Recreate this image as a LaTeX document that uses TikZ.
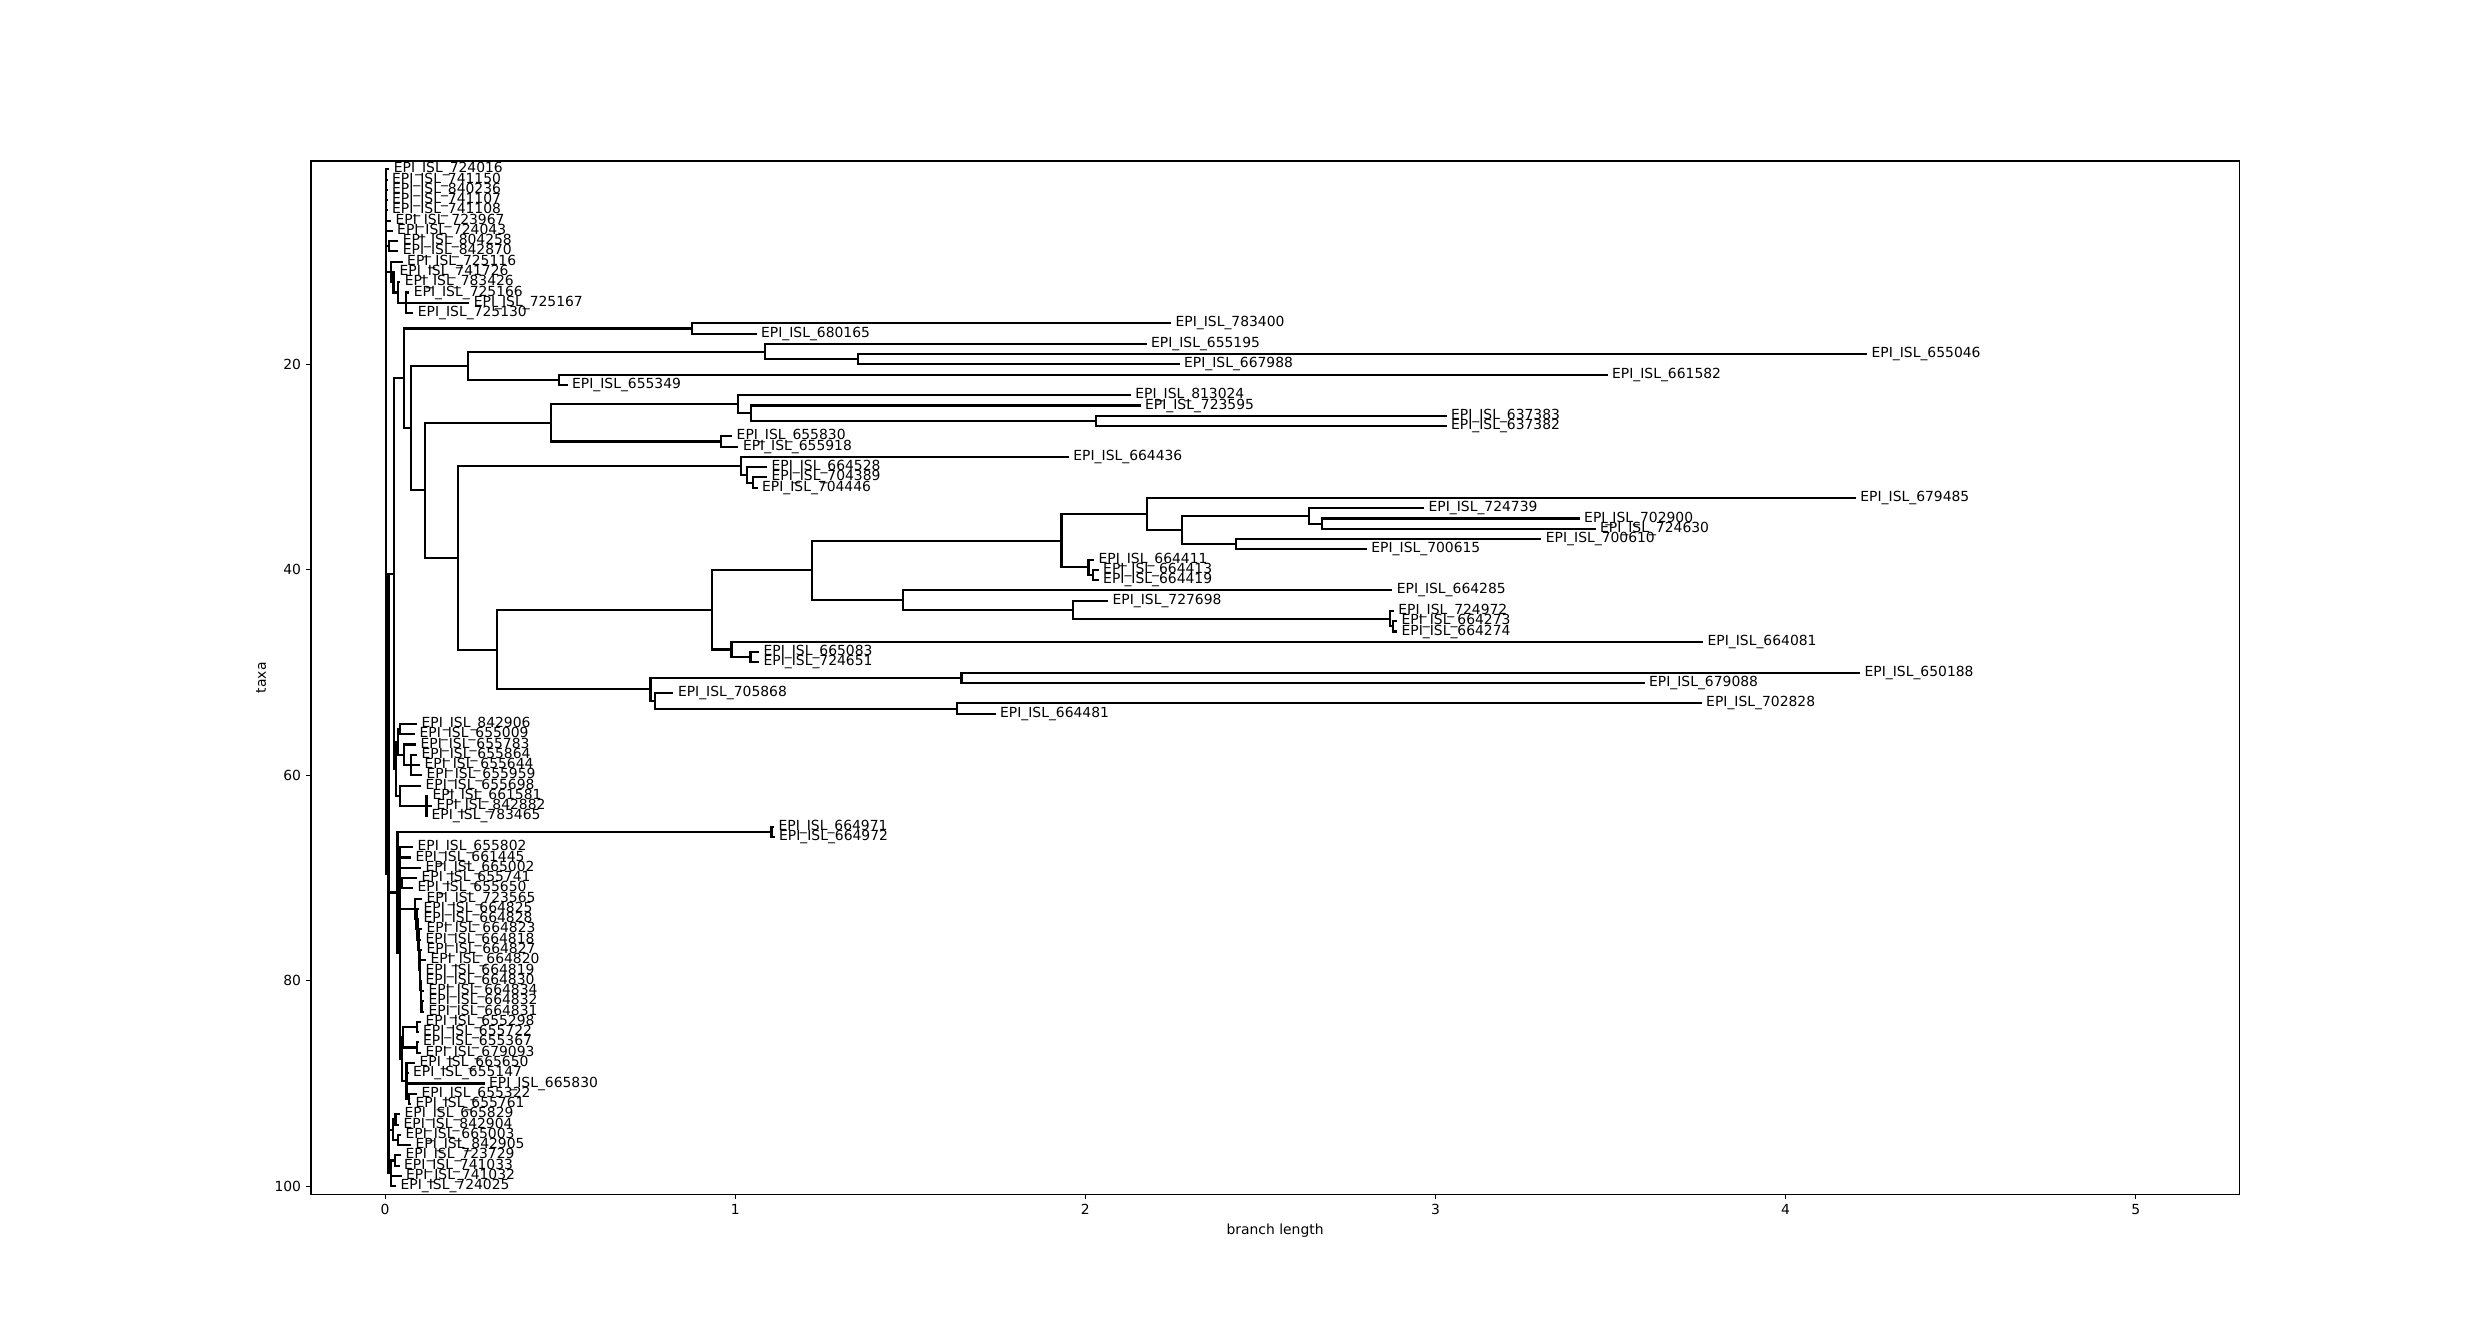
\documentclass[tikz,border=0pt]{standalone}
\usepackage{fontspec}
\setmainfont{DejaVu Sans}
\begin{document}
\begin{tikzpicture}[x=1pt,y=-1pt,
  br/.style={line width=2.08pt,black},
  axisline/.style={line width=1.1pt,black},
  ticklab/.style={inner sep=0pt,font=\fontsize{13.9pt}{16pt}\selectfont},
  lab/.style={anchor=west,inner sep=0pt,xshift=4.42pt,font=\fontsize{13.9pt}{16pt}\selectfont}]
\fill[white] (0,0) rectangle (2488,1342);
\useasboundingbox (0,0) rectangle (2488,1342);
% axes
\draw[axisline] (311,161.04) rectangle (2239.2,1194.38);
\foreach \k/\xx in {0/385.16,1/735.26,2/1085.36,3/1435.46,4/1785.56,5/2135.66}{
  \draw[axisline] (\xx,1194.38) -- (\xx,1199.24);
  \node[ticklab,anchor=north] (xt\k) at (\xx,1204.1) {\k};
}
\foreach \v/\yy in {20/364.43,40/569.87,60/775.31,80/980.75,100/1186.19}{
  \draw[axisline] (311,\yy) -- (306.14,\yy);
  \node[ticklab,anchor=east] (yt\v) at (301.28,\yy) {\v};
}
\node[ticklab,anchor=base] (xlab) at (1275.1,1234.3) {branch length};
\node[ticklab,anchor=base,rotate=90] (ylab) at (265.9,677.7) {taxa};
% tree
\begin{scope}[y=-10.272pt,yshift=-158.99pt]
\foreach \i/\x/\l in {1/389.3/724016,2/387.5/741150,3/387.5/840236,4/387.5/741107,5/387.5/741108,
6/391/723967,7/392.6/724043,8/398.3/804258,9/398.3/842870,10/402.6/725116,
11/395/741726,12/400.3/783426,13/409.3/725166,14/469.3/725167,15/413.3/725130,
16/1171/783400,17/756.5/680165,18/1146.5/655195,19/1867/655046,20/1179.5/667988,
21/1607.5/661582,22/567.5/655349,23/1130.8/813024,24/1140.5/723595,25/1446.5/637383,
26/1446.5/637382,27/732.1/655830,28/738.4/655918,29/1068.8/664436,30/767/664528,
31/767/704389,32/757.5/704446,33/1855.8/679485,34/1424/724739,35/1579.6/702900,
36/1595.5/724630,37/1541.3/700610,38/1366.8/700615,39/1094/664411,40/1098.6/664413,
41/1098.6/664419,42/1392.2/664285,43/1108/727698,44/1393.8/724972,45/1397/664273,
46/1397/664274,47/1703/664081,48/759/665083,49/759/724651,50/1860/650188,
51/1644.5/679088,52/673.4/705868,53/1701.6/702828,54/995.5/664481,55/417/842906,
56/415/655009,57/416/655783,58/417/655864,59/420/655644,60/422/655959,
61/421/655698,62/428/661581,63/432/842882,64/427/783465,65/774/664971,
66/774.5/664972,67/413/655802,68/411/661445,69/421/665002,70/417/655741,
71/413/655650,72/422/723565,73/419/664825,74/419/664828,75/422/664823,
76/421/664818,77/422/664827,78/426/664820,79/421/664819,80/421/664830,
81/424/664834,82/424/664832,83/424/664831,84/421/655298,85/418.5/655722,
86/418.5/655367,87/421/679093,88/415/665650,89/408.5/655147,90/484.5/665830,
91/417/655322,92/411/655761,93/400/665829,94/399/842904,95/401/665003,
96/411/842905,97/401/723729,98/399.5/741033,99/401.5/741032,100/396/724025}{
  \coordinate (t\i) at (\x,\i);
  \node[lab] (l\i) at (t\i) {EPI\_ISL\_\l};
}
\foreach \n/\x/\y in {R/385.6/35.2775,Y/388.5/69.5549,g2x5/386.3/3.5,g8x9/389.3/8.5,
g10x15/391/11,g11x15/393.5/12,g12x15/398/13,g13x15/406/14,
P1/394/40.3598,P2/404/21.3445,A/691.8/16.5,Q0/411/26.189,Q1/467.7/20.125,
Q2/764.8/18.75,Q4/858.4/19.5,Q3/559.3/21.5,R1/425/32.2529,RU/550.7/25.6875,
RU1/737.7/23.875,RU3/750.7/24.75,RU4/1096.4/25.5,RU2/721/27.5,S1/458/38.8184,
U1/741/29.875,U2/746.7/30.75,U3/753/31.5,S2/496.6/47.7617,S3/712.4/43.8984,
S4/812.4/40.0469,S5/1061.5/37.1563,S6/1147.2/34.5625,S7/1182/36.125,S8/1309/34.75,
S9/1321.7/35.5,S10/1236/37.5,S11/1088.5/39.75,S12/1093.2/40.5,S13/902.8/42.9375,
S14/1072.6/43.875,S15/1390/44.75,S16/1393/45.5,S17/731.5/47.75,S17b/750.5/48.5,
S18/650.5/51.625,S19/961.5/50.5,S20/655.3/52.75,S21/956.8/53.5,
g55x64/396/59.375,g55x60/398/56.75,g55x56/400/55.5,g57x60/404/58,g58x60/411/59,
g61x64/400/62,g62x64/426.5/63,g65x92/397.5/71.4063,g65x66/771.5/65.5,
g67x92/400/77.3125,g70x71/402/70.5,L1/415/72.9995,L2/416.5/73.999,L3/417.5/74.998,
L4/418.5/75.9961,L5/419/76.9922,L6/419.5/77.9844,L7/420/78.9688,L8/420.3/79.9375,
L9/420.6/80.875,L10/421/81.75,L11/421.5/82.5,g84x92/401.7/87.625,g84x87/403.3/85.5,
g84x85/417/84.5,g86x87/417/86.5,g88x92/406.5/89.75,g91x92/409/91.5,
g93x96/393/94.5,g93x94/395.5/93.5,g95x96/398/95.5,B1/390.7/98.75,g97x98/395/97.5}{
  \coordinate (\n) at (\x,\y);
}
\foreach \p/\c in {R/t1,R/g2x5,R/t6,R/t7,R/g8x9,R/g10x15,R/Y,
g2x5/t2,g2x5/t3,g2x5/t4,g2x5/t5,g8x9/t8,g8x9/t9,g10x15/t10,g10x15/g11x15,
g11x15/t11,g11x15/g12x15,g12x15/t12,g12x15/g13x15,g13x15/t13,g13x15/t14,g13x15/t15,
Y/P1,Y/g65x92,Y/g93x96,Y/B1,P1/P2,P1/g55x64,P2/A,P2/Q0,A/t16,A/t17,
Q0/Q1,Q0/R1,Q1/Q2,Q1/Q3,Q2/t18,Q2/Q4,Q4/t19,Q4/t20,Q3/t21,Q3/t22,
R1/RU,R1/S1,RU/RU1,RU/RU2,RU1/t23,RU1/RU3,RU3/t24,RU3/RU4,RU4/t25,RU4/t26,
RU2/t27,RU2/t28,S1/U1,S1/S2,U1/t29,U1/U2,U2/t30,U2/U3,U3/t31,U3/t32,
S2/S3,S2/S18,S3/S4,S3/S17,S4/S5,S4/S13,S5/S6,S5/S11,S6/t33,S6/S7,S7/S8,S7/S10,
S8/t34,S8/S9,S9/t35,S9/t36,S10/t37,S10/t38,S11/t39,S11/S12,S12/t40,S12/t41,
S13/t42,S13/S14,S14/t43,S14/S15,S15/t44,S15/S16,S16/t45,S16/t46,
S17/t47,S17/S17b,S17b/t48,S17b/t49,S18/S19,S18/S20,S19/t50,S19/t51,
S20/t52,S20/S21,S21/t53,S21/t54,
g55x64/g55x60,g55x64/g61x64,g55x60/g55x56,g55x60/g57x60,g55x56/t55,g55x56/t56,
g57x60/t57,g57x60/g58x60,g58x60/t58,g58x60/t59,g58x60/t60,g61x64/t61,g61x64/g62x64,
g62x64/t62,g62x64/t63,g62x64/t64,g65x92/g65x66,g65x92/g67x92,g65x66/t65,g65x66/t66,
g67x92/t67,g67x92/t68,g67x92/t69,g67x92/g70x71,g67x92/L1,g67x92/g84x92,
g70x71/t70,g70x71/t71,L1/t72,L1/L2,L2/t73,L2/L3,L3/t74,L3/L4,L4/t75,L4/L5,
L5/t76,L5/L6,L6/t77,L6/L7,L7/t78,L7/L8,L8/t79,L8/L9,L9/t80,L9/L10,L10/t81,L10/L11,
L11/t82,L11/t83,g84x92/g84x87,g84x92/g88x92,g84x87/g84x85,g84x87/g86x87,
g84x85/t84,g84x85/t85,g86x87/t86,g86x87/t87,g88x92/t88,g88x92/t89,g88x92/t90,
g88x92/g91x92,g91x92/t91,g91x92/t92,g93x96/g93x94,g93x96/g95x96,
g93x94/t93,g93x94/t94,g95x96/t95,g95x96/t96,B1/g97x98,B1/t99,B1/t100,
g97x98/t97,g97x98/t98}{
  \draw[br] (\p) |- (\c);
}
\end{scope}
\end{tikzpicture}
\end{document}
